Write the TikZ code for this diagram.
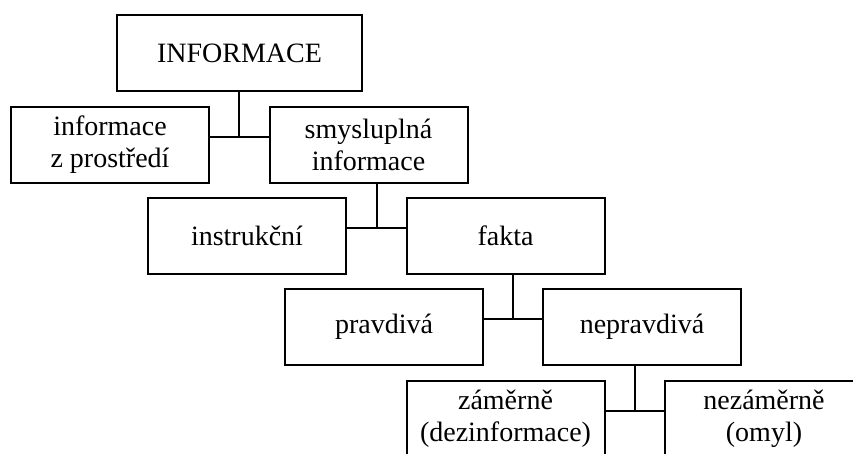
\documentclass[tikz,border=0pt]{standalone}
\usepackage{fontspec}
\setmainfont{Liberation Serif}
\begin{document}
\begin{tikzpicture}[x=1pt,y=-1pt,
  box/.style={draw, line width=2pt, rectangle, inner sep=0pt,
    minimum width=198pt, minimum height=76pt, align=center,
    font=\fontsize{28}{32}\selectfont},
  link/.style={line width=2pt}]
\useasboundingbox (0,0) rectangle (853,453);
\clip (0,0) rectangle (853,453);
% boxes
\node[box, minimum width=245pt] (info) at (239.5,53) {INFORMACE};
\node[box] (env)   at (110,145)   {informace\\z prostředí};
\node[box] (mean)  at (368.5,145) {smysluplná\\informace};
\node[box] (instr) at (247,235.5) {instrukční};
\node[box] (fact)  at (505.5,235.5) {fakta};
\node[box] (true)  at (384,327)   {pravdivá};
\node[box] (false) at (642,327)   {nepravdivá};
\node[box] (delib) at (505.5,419) {záměrně\\(dezinformace)};
\node[box] (accid) at (764,419)   {nezáměrně\\(omyl)};
% junction points between sibling boxes
\coordinate (j1) at (239,137);
\coordinate (j2) at (376.5,228);
\coordinate (j3) at (513,319);
\coordinate (j4) at (634.5,411);
% tree connectors
\draw[link] (j1 |- info.south) -- (j1);
\draw[link] (env.east |- j1) -- (mean.west |- j1);
\draw[link] (j2 |- mean.south) -- (j2);
\draw[link] (instr.east |- j2) -- (fact.west |- j2);
\draw[link] (j3 |- fact.south) -- (j3);
\draw[link] (true.east |- j3) -- (false.west |- j3);
\draw[link] (j4 |- false.south) -- (j4);
\draw[link] (delib.east |- j4) -- (accid.west |- j4);
\end{tikzpicture}
\end{document}
